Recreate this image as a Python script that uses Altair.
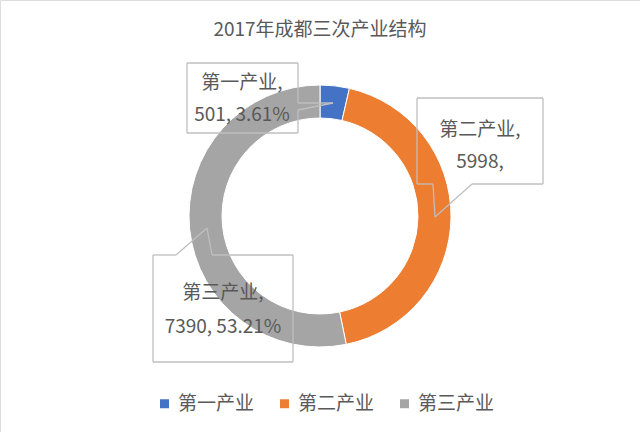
import altair as alt
import pandas as pd

# ---- data ----
categories = ["第一产业", "第二产业", "第三产业"]
values = [501, 5998, 7390]
colors = ["#4472C4", "#ED7D31", "#A5A5A5"]
show_pct = [True, False, True]   # the second label in the original omits its percentage
title_text = "2017年成都三次产业结构"

total = sum(values)
pcts = [v / total * 100 for v in values]

# ---- layout (pixels) ----
W, H = 640, 432
CX, CY = 320, 216
R_OUT, R_IN = 131, 98
FONT = "Noto Sans CJK SC"
TXT = "#595959"

# label anchor centres (x, line1 y, line2 y)
label_pos = [(242, 83, 115), (480, 130, 162), (223, 293, 327)]
# callout outlines
callouts = [
    [(187, 63), (298, 63), (298, 103), (333, 103), (298, 110), (298, 133), (187, 133), (187, 63)],
    [(417, 98), (543, 98), (543, 184), (472, 184), (435, 217), (433, 184), (417, 184), (417, 98)],
    [(153, 255), (176, 255), (207, 228), (212, 255), (293, 255), (293, 362), (153, 362), (153, 255)],
]

pie_df = pd.DataFrame({"cat": categories, "value": values, "order": list(range(len(values)))})

rows = []
for i, (c, v, p, s) in enumerate(zip(categories, values, pcts, show_pct)):
    x, y1, y2 = label_pos[i]
    rows.append({"x": x, "y": y1, "t": f"{c},"})
    rows.append({"x": x, "y": y2, "t": f"{v}, {p:.2f}%" if s else f"{v},"})
text_df = pd.DataFrame(rows)

segs = []
for poly in callouts:
    for (a, b) in zip(poly[:-1], poly[1:]):
        segs.append({"x": a[0], "y": a[1], "x2": b[0], "y2": b[1]})
seg_df = pd.DataFrame(segs)

xs = alt.Scale(domain=[0, W], range=[0, W])
ys = alt.Scale(domain=[0, H], range=[0, H])

arc = alt.Chart(pie_df).mark_arc(
    outerRadius=R_OUT, innerRadius=R_IN, stroke="white", strokeWidth=1
).encode(
    theta=alt.Theta("value:Q", stack=True),
    order=alt.Order("order:Q"),
    color=alt.Color(
        "cat:N",
        scale=alt.Scale(domain=categories, range=colors),
        sort=categories,
        legend=alt.Legend(
            title=None, orient="none", legendX=155, legendY=394,
            direction="horizontal", symbolType="square", symbolSize=81,
            symbolStrokeWidth=0, labelFont=FONT, labelFontSize=19,
            labelColor=TXT, labelOffset=4, columnPadding=20,
        ),
    ),
    x=alt.value(CX),
    y=alt.value(CY),
)

outline = alt.Chart(seg_df).mark_rule(color="#BFBFBF", strokeWidth=1.3).encode(
    x=alt.X("x:Q", scale=xs, axis=None),
    y=alt.Y("y:Q", scale=ys, axis=None),
    x2="x2:Q",
    y2="y2:Q",
)

labels = alt.Chart(text_df).mark_text(
    font=FONT, fontSize=19, color=TXT, align="center", baseline="middle"
).encode(
    x=alt.X("x:Q", scale=xs, axis=None),
    y=alt.Y("y:Q", scale=ys, axis=None),
    text="t:N",
)

title = alt.Chart(pd.DataFrame({"t": [title_text]})).mark_text(
    font=FONT, fontSize=19, color=TXT, align="center", baseline="middle"
).encode(x=alt.value(W / 2), y=alt.value(30), text="t:N")

chart = alt.layer(arc, outline, labels, title).properties(
    width=W, height=H, autosize=alt.AutoSizeParams(type="none"), padding=0
).configure_view(stroke=None).configure(background="white")

chart.save("out.html", embed_options={"renderer": "svg", "actions": False})
